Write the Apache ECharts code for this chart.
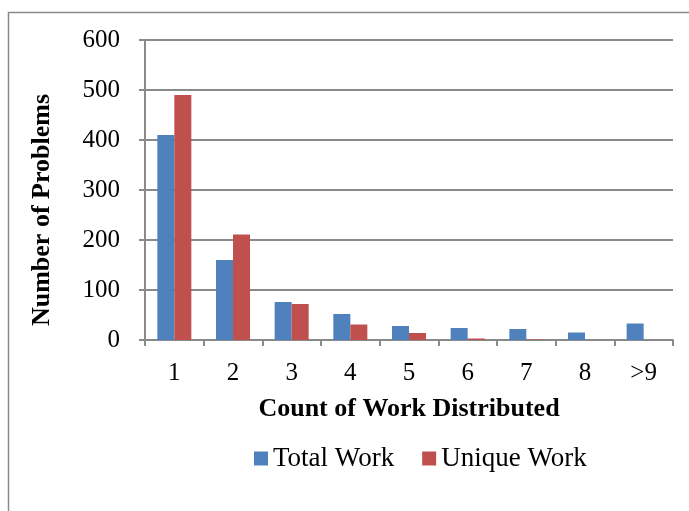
<!DOCTYPE html>
<html>
<head>
<meta charset="utf-8">
<style>
  html, body { margin: 0; padding: 0; background: #ffffff; }
  #chart { width: 689px; height: 511px; }
</style>
<script src="https://cdn.jsdelivr.net/npm/echarts@6/dist/echarts.min.js"></script>
</head>
<body>
<div id="chart"></div>
<script>
// Distribution of work counts per problem
const categories = ['1', '2', '3', '4', '5', '6', '7', '8', '>9'];
const totalWork = [410, 160, 76, 52, 28, 24, 22, 15, 33];
const uniqueWork = [490, 211, 72, 31, 14, 3, 1, 0, 0];
const yTicks = { min: 0, max: 600, interval: 100 };
const yTitle = 'Number of Problems';
const xTitle = 'Count of Work Distributed';

const FONT = '"Liberation Serif", "Times New Roman", serif';
const chart = echarts.init(document.getElementById('chart'), null, { renderer: 'canvas' });

chart.setOption({
  backgroundColor: '#ffffff',
  animation: false,
  textStyle: { fontFamily: FONT, color: '#000' },
  graphic: [
    {
      type: 'rect',
      shape: { x: 8.5, y: 12.5, width: 700, height: 520 },
      style: { fill: 'none', stroke: '#8a8a8a', lineWidth: 1.5 },
      silent: true
    },
    {
      // vertical axis title, sitting a little below the plot's middle
      type: 'text',
      x: 42,
      y: 210,
      rotation: Math.PI / 2,
      style: {
        text: yTitle,
        fontFamily: FONT,
        fontSize: 26,
        fontWeight: 'bold',
        fill: '#000',
        align: 'center',
        verticalAlign: 'middle'
      },
      silent: true
    }
  ],
  grid: { left: 145, right: 16, top: 40, bottom: 171, containLabel: false },
  legend: {
    data: ['Total Work', 'Unique Work'],
    left: 249,
    top: 440,
    itemWidth: 14,
    itemHeight: 14,
    itemGap: 28,
    icon: 'rect',
    textStyle: { fontFamily: FONT, fontSize: 27, color: '#000' }
  },
  xAxis: {
    type: 'category',
    data: categories,
    name: xTitle,
    nameLocation: 'middle',
    nameGap: 56,
    nameTextStyle: { fontFamily: FONT, fontSize: 26, fontWeight: 'bold', color: '#000' },
    axisLine: { lineStyle: { color: '#8a8a8a', width: 2 } },
    axisTick: { show: true, alignWithLabel: false, length: 6, lineStyle: { color: '#8a8a8a', width: 2 } },
    axisLabel: { fontFamily: FONT, fontSize: 25, color: '#000', margin: 21 },
    splitLine: { show: false }
  },
  yAxis: {
    type: 'value',
    min: yTicks.min,
    max: yTicks.max,
    interval: yTicks.interval,
    axisLine: { show: true, lineStyle: { color: '#8a8a8a', width: 2 } },
    axisTick: { show: true, length: 6, lineStyle: { color: '#8a8a8a', width: 2 } },
    axisLabel: { fontFamily: FONT, fontSize: 25, color: '#000', margin: 25 },
    splitLine: { show: true, lineStyle: { color: '#8a8a8a', width: 2 } }
  },
  series: [
    {
      name: 'Total Work',
      type: 'bar',
      data: totalWork,
      barWidth: 17,
      barGap: '0%',
      itemStyle: { color: '#4f81bd' }
    },
    {
      name: 'Unique Work',
      type: 'bar',
      data: uniqueWork,
      barWidth: 17,
      barGap: '0%',
      itemStyle: { color: '#c0504d' }
    }
  ]
});
</script>
</body>
</html>
